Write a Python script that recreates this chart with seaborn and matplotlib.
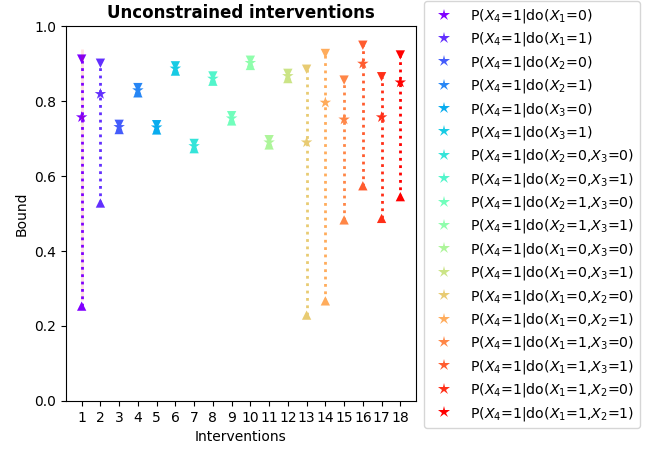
import numpy as np
import pandas as pd
import matplotlib
matplotlib.use("Agg")
import matplotlib.pyplot as plt
import seaborn as sns

# Datos
interventions = list(range(1, 19))
labels = [
    r'P($X_4$=1|do($X_1$=0)', r'P($X_4$=1|do($X_1$=1)',
    r'P($X_4$=1|do($X_2$=0)', r'P($X_4$=1|do($X_2$=1)',
    r'P($X_4$=1|do($X_3$=0)', r'P($X_4$=1|do($X_3$=1)',
    r'P($X_4$=1|do($X_2$=0,$X_3$=0)', r'P($X_4$=1|do($X_2$=0,$X_3$=1)',
    r'P($X_4$=1|do($X_2$=1,$X_3$=0)', r'P($X_4$=1|do($X_2$=1,$X_3$=1)',
    r'P($X_4$=1|do($X_1$=0,$X_3$=0)', r'P($X_4$=1|do($X_1$=0,$X_3$=1)',
    r'P($X_4$=1|do($X_1$=0,$X_2$=0)', r'P($X_4$=1|do($X_1$=0,$X_2$=1)',
    r'P($X_4$=1|do($X_1$=1,$X_3$=0)', r'P($X_4$=1|do($X_1$=1,$X_3$=1)',
    r'P($X_4$=1|do($X_1$=1,$X_2$=0)', r'P($X_4$=1|do($X_1$=1,$X_2$=1)',
]
upper = [0.912, 0.901, 0.738, 0.836, 0.737, 0.894, 0.687, 0.867, 0.761, 0.909,
         0.697, 0.874, 0.885, 0.927, 0.856, 0.949, 0.865, 0.923]
lower = [0.253, 0.528, 0.724, 0.822, 0.723, 0.880, 0.673, 0.853, 0.747, 0.895,
         0.683, 0.860, 0.229, 0.267, 0.483, 0.574, 0.487, 0.545]
point = [0.757, 0.819, 0.731, 0.829, 0.730, 0.887, 0.680, 0.860, 0.754, 0.902,
         0.690, 0.867, 0.690, 0.796, 0.751, 0.900, 0.757, 0.850]

df = pd.DataFrame({'x': interventions, 'label': labels,
                   'upper': upper, 'lower': lower, 'point': point})
colors = [plt.cm.rainbow(v) for v in np.linspace(0, 1, len(df))]

fig = plt.figure(figsize=(6.54, 4.5), dpi=100)
ax = fig.add_axes([0.1005, 0.109, 0.536, 0.833])

# linea tenue que aparece detras de la primera intervencion
ax.vlines(1, 0.27, 0.94, colors='red', alpha=0.12, linewidth=2)

# lineas punteadas entre cotas
ax.vlines(df['x'], df['lower'], df['upper'], colors=colors, linestyles=':', linewidth=2)

sns.scatterplot(data=df, x='x', y='upper', hue='label', palette=colors, marker='v',
                s=45, linewidth=0, legend=False, ax=ax)
sns.scatterplot(data=df, x='x', y='lower', hue='label', palette=colors, marker='^',
                s=45, linewidth=0, legend=False, ax=ax)
sns.scatterplot(data=df, x='x', y='point', hue='label', palette=colors, marker='*',
                s=75, linewidth=0, ax=ax)

handles, labs = ax.get_legend_handles_labels()
ax.get_legend().remove()
fig.legend(handles, labs, loc='upper left', bbox_to_anchor=(0.649, 0.997),
           fontsize=10.2, labelspacing=0.38, borderaxespad=0)

ax.set_ylim(0, 1.0)
ax.set_xticks(interventions)
ax.set_title("Unconstrained interventions", fontweight='bold', fontsize=12)
ax.set_xlabel("Interventions")
ax.set_ylabel("Bound")

fig.savefig("out.png", dpi=100)
